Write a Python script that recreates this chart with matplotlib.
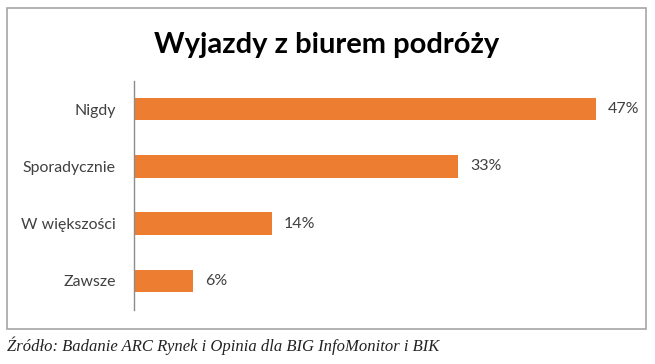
import matplotlib.pyplot as plt
from matplotlib.patches import Rectangle

# Dane
categories = ['Nigdy', 'Sporadycznie', 'W większości', 'Zawsze']
values = [47, 33, 14, 6]
labels = ['47%', '33%', '14%', '6%']

W, H = 655, 364
fig = plt.figure(figsize=(W / 100, H / 100), dpi=100)
fig.patch.set_facecolor('white')

# ramka wykresu
fig.patches.append(Rectangle((7 / W, 1 - 329 / H), 639 / W, 321 / H,
                             transform=fig.transFigure, fill=False,
                             edgecolor='#a6a6a6', linewidth=1.2))

ax = fig.add_axes([134 / W, 1 - 309.5 / H, 491.5 / W, 229 / H])
y = list(range(len(categories)))
ax.barh(y, values, height=0.39, color='#ED7D31')
ax.set_ylim(len(categories) - 0.5, -0.5)
ax.set_xlim(0, 50)
ax.set_yticks(y)
ax.set_yticklabels(categories, fontsize=11.4, color='#404040', family=['Lato', 'DejaVu Sans'])
ax.tick_params(axis='y', length=0, pad=13)
ax.set_xticks([])
for s in ['top', 'right', 'bottom']:
    ax.spines[s].set_visible(False)
ax.spines['left'].set_color('#8c8c8c')
ax.spines['left'].set_linewidth(1)

for i, (v, t) in enumerate(zip(values, labels)):
    ax.text(v + 1.2, i, t, va='center', ha='left', fontsize=11.5, color='#404040',
            family=['Lato', 'DejaVu Sans'])

fig.text(327 / W, 1 - 45 / H, 'Wyjazdy z biurem podróży', ha='center', va='center',
         fontsize=21, fontweight='bold', color='black', family=['Lato', 'DejaVu Sans'])

fig.text(7 / W, 1 - 346 / H, 'Źródło: Badanie ARC Rynek i Opinia dla BIG InfoMonitor i BIK',
         ha='left', va='center', fontsize=12, style='italic', color='#222222',
         family=['Liberation Serif', 'DejaVu Serif'])

fig.savefig('out.png', dpi=100)
